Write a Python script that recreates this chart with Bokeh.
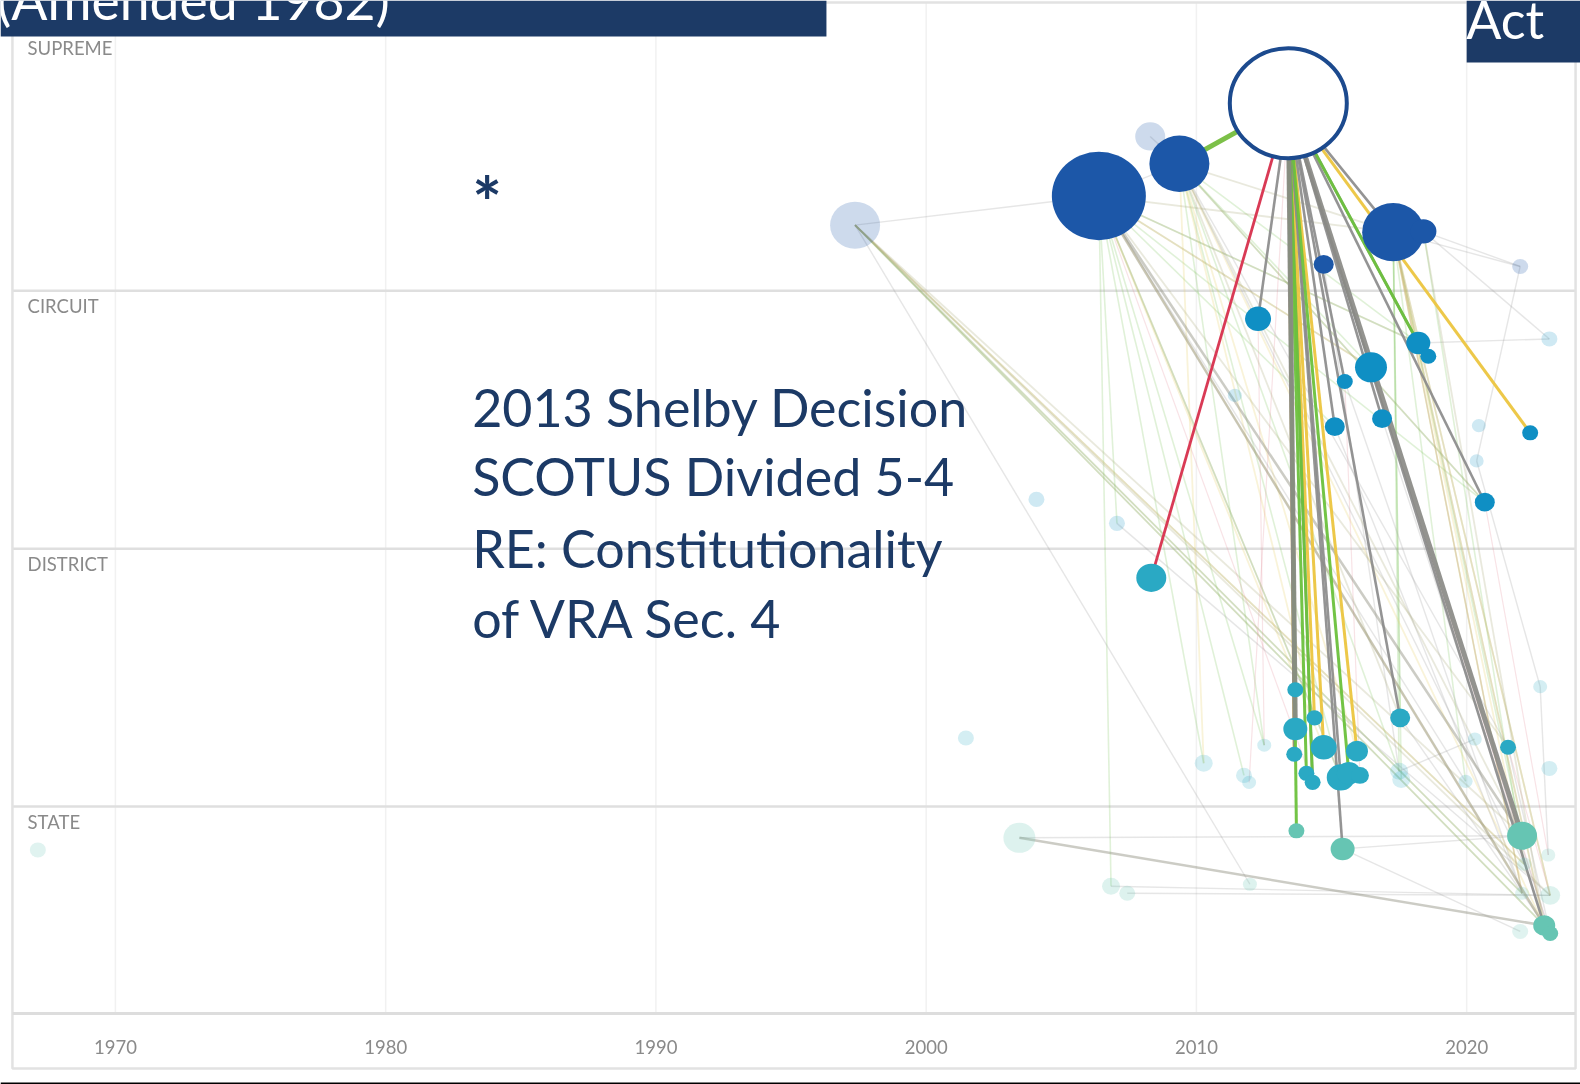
from bokeh.plotting import figure
from bokeh.models import ColumnDataSource, FixedTicker, LinearAxis, Label, Range1d
from bokeh.core.properties import value
from bokeh.embed import file_html
from bokeh.resources import INLINE

# ---- axis data
tick_years = [1970, 1980, 1990, 2000, 2010, 2020]
court_names = ["SUPREME", "CIRCUIT", "DISTRICT", "STATE"]
court_label_year = [1966.75] * 4
court_label_level = [3.94, 2.94, 1.94, 0.94]
court_lines = [1, 2, 3]

# ---- cases: id, decision year, court level, marker size, opacity
supreme_ids = ["s0", "s1", "s2", "s3", "s4", "s5", "s6", "s7", "s8"]
supreme_year = [2013.40, 2006.39, 2009.37, 2008.29, 1997.37, 2017.28, 2018.40, 2014.71, 2021.98]
supreme_level = [3.727, 3.367, 3.492, 3.598, 3.254, 3.227, 3.230, 3.102, 3.094]
supreme_size = [117, 94, 60, 30, 50, 62, 26, 20, 16]
supreme_alpha = [1, 1, 1, 0.22, 0.22, 1, 1, 1, 0.22]

circuit_ids = ["c%d" % i for i in range(15)]
circuit_year = [2012.28, 2018.21, 2018.58, 2016.46, 2015.49, 2015.12, 2016.87, 2022.35, 2020.67,
                2023.06, 2011.42, 2020.45, 2020.37, 2004.08, 2007.06]
circuit_level = [2.891, 2.797, 2.746, 2.703, 2.648, 2.473, 2.504, 2.449, 2.180,
                 2.813, 2.594, 2.477, 2.340, 2.191, 2.098]
circuit_size = [26, 24, 16, 32, 16, 20, 20, 16, 20, 16, 14, 14, 14, 16, 16]
circuit_alpha = [1, 1, 1, 1, 1, 1, 1, 1, 1, 0.2, 0.2, 0.2, 0.2, 0.2, 0.2]

district_ids = ["d%d" % i for i in range(25)]
district_year = [2008.33, 2013.66, 2014.37, 2013.66, 2013.62, 2014.71, 2015.94, 2014.07, 2014.30,
                 2015.34, 2015.64, 2016.05, 2017.54, 2021.53, 2022.72, 2001.47, 2010.27, 2012.51,
                 2011.76, 2011.95, 2017.50, 2017.58, 2019.96, 2020.30, 2023.06]
district_level = [1.887, 1.453, 1.344, 1.301, 1.203, 1.230, 1.215, 1.129, 1.094,
                  1.113, 1.129, 1.121, 1.344, 1.230, 1.465, 1.266, 1.168, 1.238,
                  1.121, 1.094, 1.137, 1.105, 1.098, 1.262, 1.148]
district_size = [30, 16, 16, 24, 16, 26, 22, 16, 16, 28, 24, 18, 20, 16,
                 14, 16, 18, 14, 16, 14, 18, 18, 14, 14, 16]
district_alpha = [1] * 14 + [0.2] * 11

state_ids = ["t%d" % i for i in range(15)]
state_year = [2013.70, 2015.41, 2022.05, 2022.87, 2023.09, 2003.45, 2006.84, 2007.44, 2011.98,
              1967.13, 2023.09, 2022.05, 2023.02, 2021.98, 2022.13]
state_level = [0.906, 0.836, 0.887, 0.539, 0.508, 0.879, 0.691, 0.664, 0.699,
               0.832, 0.656, 0.664, 0.8125, 0.516, 0.777]
state_size = [16, 24, 30, 22, 16, 32, 18, 16, 14, 16, 20, 14, 14, 16, 14]
state_alpha = [1, 1, 1, 1, 1, 0.22, 0.22, 0.22, 0.22, 0.2, 0.22, 0.2, 0.2, 0.2, 0.2]

# ---- citations between cases, grouped by treatment
grey_strong = [("s0", "c0"), ("s0", "d1"), ("s0", "d4"), ("s0", "d8"), ("s0", "d9"), ("s0", "t1"),
               ("s0", "c4"), ("s0", "c5"), ("s0", "c6"), ("s0", "c8"), ("s0", "s5"), ("s0", "d12"),
               ("s0", "t3"), ("s0", "c1")]
grey_heavy = [("s0", "t2"), ("s0", "d3")]
green_thick = [("s0", "s2")]
green_strong = [("s0", "d1"), ("s0", "d3"), ("s0", "t0"), ("s0", "d7"),
                ("s0", "d10"), ("s0", "c1"), ("s0", "d8")]
yellow_strong = [("s0", "d2"), ("s0", "d5"), ("s0", "d6"), ("s0", "c7"), ("s0", "d4")]
red_strong = [("s0", "d0")]
grey_mid = [("t5", "t3"), ("s1", "t2"), ("s1", "t3")]
olive_pale = [("s4", "t3"), ("s4", "t10"), ("s4", "t11"), ("s4", "t14"), ("s4", "t2"), ("s1", "s5"),
              ("s1", "d13"), ("s1", "d9"), ("s1", "c3"), ("s1", "c1"), ("s2", "s5"), ("s2", "c8"),
              ("s2", "t2"), ("s2", "d12"), ("s5", "t3"), ("s5", "t10"), ("s6", "t3")]
grey_pale = [("t5", "t2"), ("t6", "t10"), ("t1", "t2"), ("t1", "t13"), ("s4", "s1"), ("s4", "t8"),
             ("s5", "s8"), ("s6", "s8"), ("s6", "c9"), ("s8", "c12"), ("c12", "d14"), ("d14", "t12"),
             ("c9", "c1"), ("d20", "d23"), ("t7", "t10"), ("s3", "s2"), ("s1", "s2"),
             ("c14", "t10"), ("c4", "t11"), ("d12", "t4"), ("c6", "t4"), ("d13", "t4"), ("s1", "d22"),
             ("s2", "d13"), ("s2", "t14"), ("c5", "t11"), ("s7", "d20")]
green_pale = [("s1", "t6"), ("s1", "c14"), ("s1", "d18"), ("s1", "d16"), ("s1", "c8"),
              ("s2", "d17"), ("s2", "c3"), ("s2", "d20"), ("s2", "c8"),
              ("s5", "d12"), ("s5", "d21"), ("s5", "d20"), ("s6", "t14"), ("s5", "t2"),
              ("s4", "t3"), ("s4", "t11"), ("s1", "c5"), ("s1", "d9"),
              ("s5", "d22"), ("s5", "t11"), ("s1", "d17"), ("s2", "d9"), ("s1", "c1"), ("s2", "c1")]
yellow_pale = [("s1", "t3"), ("s1", "c3"), ("s2", "d16"), ("s2", "t3"), ("s5", "t3"), ("s5", "t10"),
               ("s4", "t14"), ("s1", "d5"), ("s2", "d6"), ("s5", "t14"), ("s5", "t11"), ("s2", "d2")]
red_pale = [("s0", "d19"), ("s1", "d8"), ("c0", "d17"), ("c8", "t12"), ("d13", "t10"), ("s5", "t11"),
            ("c3", "t4"), ("c4", "d11")]

edge_groups = [
    (green_pale, "#7cc35a", 1.6, 0.24),
    (yellow_pale, "#e6cf6c", 1.8, 0.26),
    (red_pale, "#e08a95", 1.2, 0.24),
    (grey_pale, "#9a9a9a", 1.4, 0.25),
    (olive_pale, "#a8a878", 1.8, 0.25),
    (grey_mid, "#8f8f7f", 2.6, 0.45),
    (yellow_strong, "#ecc53f", 3, 0.95),
    (green_thick, "#7cc048", 5, 1),
    (grey_strong, "#8b8b8b", 2.6, 0.92),
    (green_strong, "#6cc13c", 3.0, 0.95),
    (grey_heavy, "#8a8a86", 5, 0.92),
    (red_strong, "#d93a55", 2.8, 1),
]

# ---- page texts
top_banner_text = "(Amended 1982)"
corner_banner_text = "Act"
note_mark = "*"
note_lines = ["2013 Shelby Decision", "SCOTUS Divided 5-4", "RE: Constitutionality", "of VRA Sec. 4"]
note_year = 1983.2
note_level = [2.551, 2.281, 2.001, 1.731]

NAVY = "#1c3a66"
FONT = "Lato"
SQUASH = 0.94

year_start, year_end = 1965.748, 2024.212
level_start, level_end = -0.0773, 4.125
plot_bottom = 0.198
plot_left, plot_right = 1966.19, 2024.03

p = figure(width=1580, height=1084, output_backend="svg", toolbar_location=None,
           x_range=Range1d(year_start, year_end), y_range=Range1d(level_start, level_end),
           x_axis_type=None, y_axis_type=None, min_border=0, outline_line_color=None)
p.styles = {"position": "fixed", "left": "0", "top": "0"}
p.xgrid.visible = False
p.ygrid.visible = False

xaxis = LinearAxis(ticker=FixedTicker(ticks=tick_years), fixed_location=plot_bottom,
                   bounds=(plot_left, plot_right),
                   major_tick_line_color=None, minor_tick_line_color=None,
                   axis_line_color="#dddddd", axis_line_width=3,
                   major_label_text_color="#8a8a8a", major_label_text_font=FONT,
                   major_label_text_font_size="18.5px", major_label_standoff=21)
p.add_layout(xaxis, "below")

# gridlines, stopped at the plot box
p.segment(tick_years, [plot_bottom] * 6, tick_years, [4.117] * 6, line_color="#f1f1f1", line_width=1.5)
p.segment([plot_left] * 3, court_lines, [plot_right] * 3, court_lines, line_color="#dfdfdf", line_width=2.5)

# outer frame and the strip at the bottom of the photo
p.quad(left=[plot_left], right=[plot_right], top=[4.117], bottom=[-0.0153],
       fill_color=None, line_color="#e2e2e2", line_width=2.5)
p.quad(left=[year_start], right=[year_end], top=[-0.0695], bottom=[level_start],
       fill_color="#000000", line_color=None)

# court labels
p.text(court_label_year, court_label_level, text=court_names, text_color="#8a8a8a",
       text_font=value(FONT), text_font_size="18.5px", text_baseline="middle")

# lookup of case positions
pos = {}
for ids, yr, lv in [(supreme_ids, supreme_year, supreme_level), (circuit_ids, circuit_year, circuit_level),
                    (district_ids, district_year, district_level), (state_ids, state_year, state_level)]:
    for i, y, l in zip(ids, yr, lv):
        pos[i] = (y, l)

for pairs, color, width, alpha in edge_groups:
    p.segment([pos[a][0] for a, b in pairs], [pos[a][1] for a, b in pairs],
              [pos[b][0] for a, b in pairs], [pos[b][1] for a, b in pairs],
              line_color=color, line_width=width, line_alpha=alpha)

# nodes
def nodes(year, level, size, alpha, color):
    src = ColumnDataSource(dict(x=year, y=level, w=size, h=[s * SQUASH for s in size], a=alpha))
    p.ellipse("x", "y", width="w", height="h", source=src, width_units="screen", height_units="screen",
              fill_color=color, fill_alpha="a", line_color=None)

nodes(state_year, state_level, state_size, state_alpha, "#66c5b3")
nodes(district_year, district_level, district_size, district_alpha, "#2aa9c4")
nodes(circuit_year, circuit_level, circuit_size, circuit_alpha, "#0f8fc4")
nodes(supreme_year[1:], supreme_level[1:], supreme_size[1:], supreme_alpha[1:], "#1c57a8")
p.ellipse(supreme_year[:1], supreme_level[:1], width=supreme_size[0], height=supreme_size[0] * SQUASH,
          width_units="screen", height_units="screen",
          fill_color="#ffffff", line_color="#1c4a8e", line_width=4)

# banners
p.quad(left=[year_start], right=[1996.31], top=[level_end], bottom=[3.985],
       fill_color=NAVY, line_color=None)
p.quad(left=[2020.0], right=[year_end], top=[level_end], bottom=[3.885],
       fill_color=NAVY, line_color=None)
p.add_layout(Label(x=1965.62, y=4.006, text=top_banner_text, text_color="#ffffff",
                   text_font=FONT, text_font_size="53.5px", text_baseline="bottom"))
p.add_layout(Label(x=2019.98, y=3.935, text=corner_banner_text, text_color="#ffffff",
                   text_font=FONT, text_font_size="52px", text_baseline="bottom"))

# note
p.add_layout(Label(x=note_year, y=3.18, text=note_mark, text_color=NAVY, text_font_style="bold",
                   text_font=FONT, text_font_size="70px", text_baseline="bottom"))
for line, lv in zip(note_lines, note_level):
    p.add_layout(Label(x=note_year, y=lv, text=line, text_color=NAVY,
                       text_font=FONT, text_font_size="52px", text_baseline="middle"))

open("out.html", "w").write(file_html(p, INLINE))
